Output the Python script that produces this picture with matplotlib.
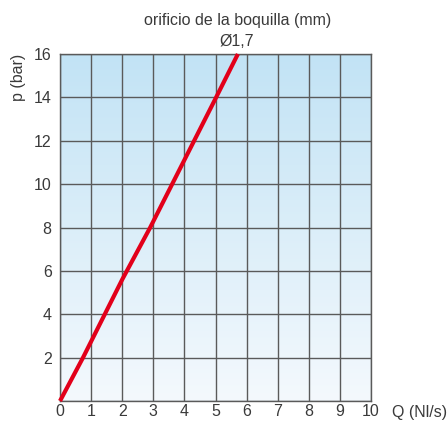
import numpy as np
import matplotlib
matplotlib.use("Agg")
import matplotlib.pyplot as plt
from matplotlib.colors import LinearSegmentedColormap

plt.rcParams['font.family'] = ['Liberation Sans', 'DejaVu Sans']

# Data
q_values = [0.0, 0.74, 2.0, 2.9, 5.02, 5.72]      # Q (Nl/s)
p_values = [0.0, 2.0, 5.6, 8.0, 14.0, 16.0]       # p (bar)
x_ticks = [0, 1, 2, 3, 4, 5, 6, 7, 8, 9, 10]
y_ticks = [2, 4, 6, 8, 10, 12, 14, 16]
series_label = "Ø1,7"
title = "orificio de la boquilla (mm)"

W, H = 447, 421
fig = plt.figure(figsize=(W/100, H/100), dpi=100)
ax = fig.add_axes([60/W, 20/H, 311/W, 347/H])

txt = '#3a3a3a'
fs = 11.5
cmap = LinearSegmentedColormap.from_list('bg', ['#f4f9fd', '#c2e3f5'])
grad = np.linspace(0, 1, 256).reshape(-1, 1)
ax.imshow(grad, extent=[0, 10, 0, 16], origin='lower', aspect='auto', cmap=cmap, zorder=0)

ax.set_xlim(0, 10)
ax.set_ylim(0, 16)
for x in x_ticks:
    ax.axvline(x, color='#5a5a5a', lw=1.0, zorder=1)
for y in [0] + y_ticks:
    ax.axhline(y, color='#5a5a5a', lw=1.0, zorder=1)
for s in ax.spines.values():
    s.set_color('#5a5a5a')
    s.set_linewidth(1.0)

ax.plot(q_values, p_values, color='#e2001a', lw=3, zorder=3, solid_capstyle='butt', clip_on=False)

ax.set_xticks(x_ticks)
ax.set_yticks(y_ticks)
ax.tick_params(length=0, labelsize=fs, colors=txt)
ax.tick_params(axis='x', pad=2)
ax.tick_params(axis='y', pad=6)

def px(x, y):
    return x / W, 1 - y / H

fig.text(*px(392, 412), "Q (Nl/s)", fontsize=fs, color=txt, ha='left', va='center')
fig.text(*px(18, 77), "p (bar)", fontsize=fs, color=txt, rotation=90, ha='center', va='center')
fig.text(*px(237, 42), series_label, fontsize=fs, color=txt, ha='center', va='center')
fig.text(*px(238, 20), title, fontsize=fs, color=txt, ha='center', va='center')

fig.savefig("out.png", dpi=100)
